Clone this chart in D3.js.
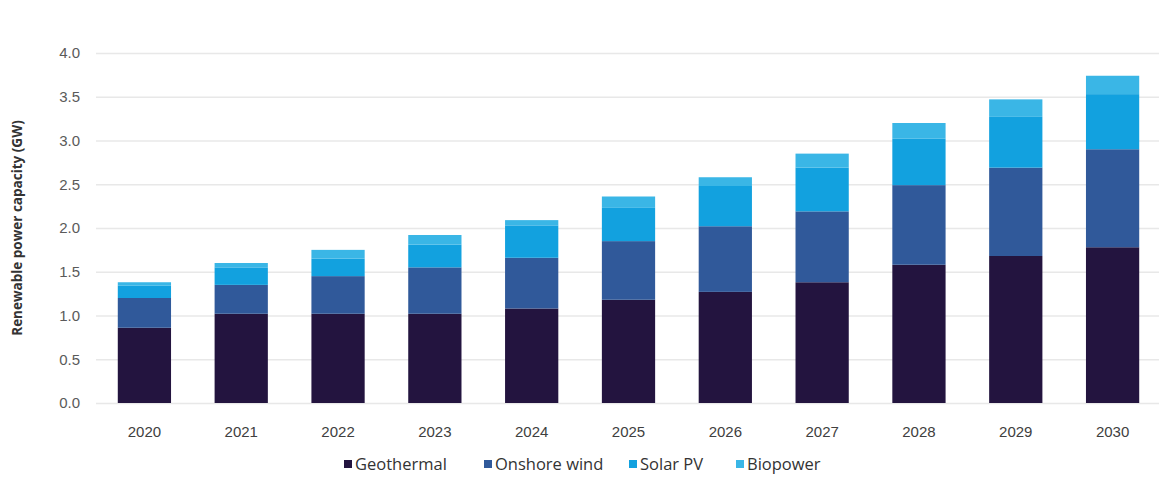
<!DOCTYPE html>
<html>
<head>
<meta charset="utf-8">
<script src="https://cdn.jsdelivr.net/npm/d3@7"></script>
<style>
  body { margin: 0; background: #fff; }
  svg { display: block; font-family: "Open Sans", sans-serif; }
</style>
</head>
<body>
<div id="main"></div>
<script>
// data (GW)
var years = ["2020", "2021", "2022", "2023", "2024", "2025", "2026", "2027", "2028", "2029", "2030"];
var geothermal = [0.86, 1.02, 1.02, 1.02, 1.08, 1.18, 1.27, 1.38, 1.58, 1.68, 1.78];
var onshoreWind = [0.34, 0.33, 0.43, 0.53, 0.58, 0.67, 0.75, 0.81, 0.91, 1.01, 1.12];
var solarPV = [0.14, 0.20, 0.20, 0.26, 0.37, 0.38, 0.46, 0.50, 0.53, 0.58, 0.63];
var biopower = [0.04, 0.05, 0.10, 0.11, 0.06, 0.13, 0.10, 0.16, 0.18, 0.20, 0.21];
var seriesNames = ["Geothermal", "Onshore wind", "Solar PV", "Biopower"];
var yTicks = [0, 0.5, 1, 1.5, 2, 2.5, 3, 3.5, 4];

var colors = ["#23143f", "#30599a", "#12a1df", "#3ab6e6"];

var w = 1159, h = 481;
var margin = { top: 53, left: 96, right: -2, bottom: 78 };

var svg = d3.select("#main")
	.append("svg")
	.attr("width", w)
	.attr("height", h);

// build rows for the stack
var rows = years.map(function(y, i) {
	return {
		year: y,
		"Geothermal": geothermal[i],
		"Onshore wind": onshoreWind[i],
		"Solar PV": solarPV[i],
		"Biopower": biopower[i]
	};
});

var stacked = d3.stack().keys(seriesNames)(rows);

var x = d3.scaleBand()
	.domain(years)
	.range([margin.left, w - margin.right])
	.paddingInner(0.45)
	.paddingOuter(0.225);

var y = d3.scaleLinear()
	.domain([0, 4])
	.range([h - margin.bottom, margin.top]);

// gridlines
svg.append("g")
	.attr("class", "grid")
	.attr("transform", "translate(" + margin.left + ",0)")
	.call(d3.axisLeft(y).tickValues(yTicks).tickSize(-(w - margin.left)).tickFormat(""))
	.call(function(g) { g.select(".domain").remove() })
	.selectAll("line")
	.attr("stroke", "#e8e8e8")
	.attr("stroke-width", 1.6);

// y labels
svg.append("g")
	.attr("transform", "translate(" + (margin.left - 13) + ",0)")
	.call(d3.axisLeft(y).tickValues(yTicks).tickSize(0).tickFormat(d3.format(".1f")))
	.call(function(g) { g.select(".domain").remove() })
	.selectAll("text")
	.attr("fill", "#5a5a5a")
	.style("font-size", "15px");

// bars
svg.append("g")
	.selectAll("g")
	.data(stacked)
	.enter()
	.append("g")
	.attr("fill", function(d, i) { return colors[i] })
	.selectAll("rect")
	.data(function(d) { return d })
	.enter()
	.append("rect")
	.attr("x", function(d) { return x(d.data.year) })
	.attr("width", x.bandwidth())
	.attr("y", function(d) { return y(d[1]) })
	.attr("height", function(d) { return y(d[0]) - y(d[1]) });

// x labels
svg.append("g")
	.attr("transform", "translate(0," + (h - margin.bottom + 20) + ")")
	.call(d3.axisBottom(x).tickSize(0))
	.call(function(g) { g.select(".domain").remove() })
	.selectAll("text")
	.attr("fill", "#404040")
	.style("font-size", "15px");

// y title
svg.append("text")
	.attr("transform", "translate(22," + ((margin.top + h - margin.bottom) / 2) + ") rotate(-90)")
	.attr("text-anchor", "middle")
	.attr("fill", "#333")
	.style("font-size", "13.5px")
	.style("font-weight", "bold")
	.text("Renewable power capacity (GW)");

// legend
var legendX = [344, 484, 629, 736];
var legend = svg.append("g")
	.selectAll("g")
	.data(seriesNames)
	.enter()
	.append("g")
	.attr("transform", function(d, i) { return "translate(" + legendX[i] + ",464)" });

legend.append("rect")
	.attr("x", 0)
	.attr("y", -4)
	.attr("width", 8)
	.attr("height", 8)
	.attr("fill", function(d, i) { return colors[i] });

legend.append("text")
	.attr("x", 11)
	.attr("dy", "0.35em")
	.attr("fill", "#333")
	.style("font-size", "16.5px")
	.text(function(d) { return d });
</script>
</body>
</html>
